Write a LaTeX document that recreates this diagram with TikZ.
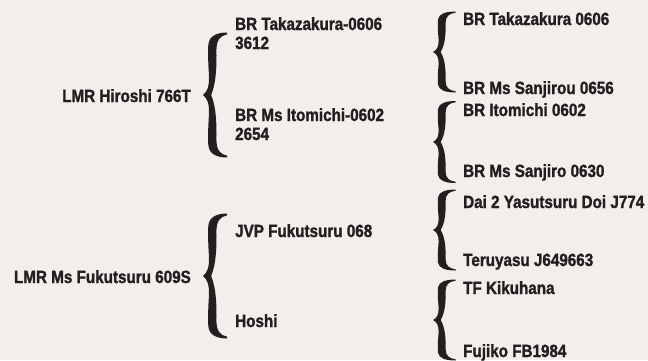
\documentclass[tikz,border=0pt]{standalone}
\usepackage{fontspec}
\newfontfamily\condfont[FakeStretch=0.86,FakeBold=1.4]{Liberation Sans}
\definecolor{bgc}{HTML}{F3EEEB}
\definecolor{ink}{HTML}{231F20}
\tikzset{
  lbl/.style={inner sep=0pt, text=ink, font=\condfont\bfseries\fontsize{17.7}{19}\selectfont, align=left},
  pics/curly/.style={code={
    \fill[ink] (0,0) .. controls (0.18,0.05) and (0.26,0.14) .. (0.25,0.3)
      .. controls (0.22,0.5) and (0.2,0.62) .. (0.22,0.8)
      .. controls (0.25,0.95) and (0.6,1) .. (1,1) -- (1,0.97)
      .. controls (0.72,0.95) and (0.56,0.88) .. (0.56,0.72)
      .. controls (0.57,0.5) and (0.56,0.2) .. (0.34,0)
      .. controls (0.56,-0.2) and (0.57,-0.5) .. (0.56,-0.72)
      .. controls (0.56,-0.88) and (0.72,-0.95) .. (1,-0.97) -- (1,-1)
      .. controls (0.6,-1) and (0.25,-0.95) .. (0.22,-0.8)
      .. controls (0.2,-0.62) and (0.22,-0.5) .. (0.25,-0.3)
      .. controls (0.26,-0.14) and (0.18,-0.05) .. (0,0) -- cycle;
  }}
}
\begin{document}
\begin{tikzpicture}[x=1pt,y=-1pt]
\fill[bgc] (0,0) rectangle (648,360);
\useasboundingbox (0,0) rectangle (648,360);
% generation 1
\node[lbl, anchor=base east] (g1) at (191,102) {LMR Hiroshi 766T};
\node[lbl, anchor=base east] (g2) at (191,283) {LMR Ms Fukutsuru 609S};
% generation 2
\node[lbl, anchor=base west] (p1) at (235,49) {BR Takazakura-0606\\3612};
\node[lbl, anchor=base west] (p2) at (235,140) {BR Ms Itomichi-0602\\2654};
\node[lbl, anchor=base west] (p3) at (235,237) {JVP Fukutsuru 068};
\node[lbl, anchor=base west] (p4) at (235,327) {Hoshi};
% generation 3
\node[lbl, anchor=base west] (q1) at (463,25) {BR Takazakura 0606};
\node[lbl, anchor=base west] (q2) at (463,94) {BR Ms Sanjirou 0656};
\node[lbl, anchor=base west] (q3) at (463,116) {BR Itomichi 0602};
\node[lbl, anchor=base west] (q4) at (463,177) {BR Ms Sanjiro 0630};
\node[lbl, anchor=base west] (q5) at (463,208) {Dai 2 Yasutsuru Doi J774};
\node[lbl, anchor=base west] (q6) at (463,266) {Teruyasu J649663};
\node[lbl, anchor=base west] (q7) at (463,294) {TF Kikuhana};
\node[lbl, anchor=base west] (q8) at (463,357) {Fujiko FB1984};
% braces
\pic[xscale=24,yscale=62.5] at (203,95) {curly};
\pic[xscale=24,yscale=62.5] at (203,276) {curly};
\pic[xscale=22.5,yscale=40.5] at (433,52) {curly};
\pic[xscale=22.5,yscale=41] at (433,142) {curly};
\pic[xscale=22.5,yscale=40.5] at (433,230) {curly};
\pic[xscale=22.5,yscale=40.5] at (433,320) {curly};
\end{tikzpicture}
\end{document}
